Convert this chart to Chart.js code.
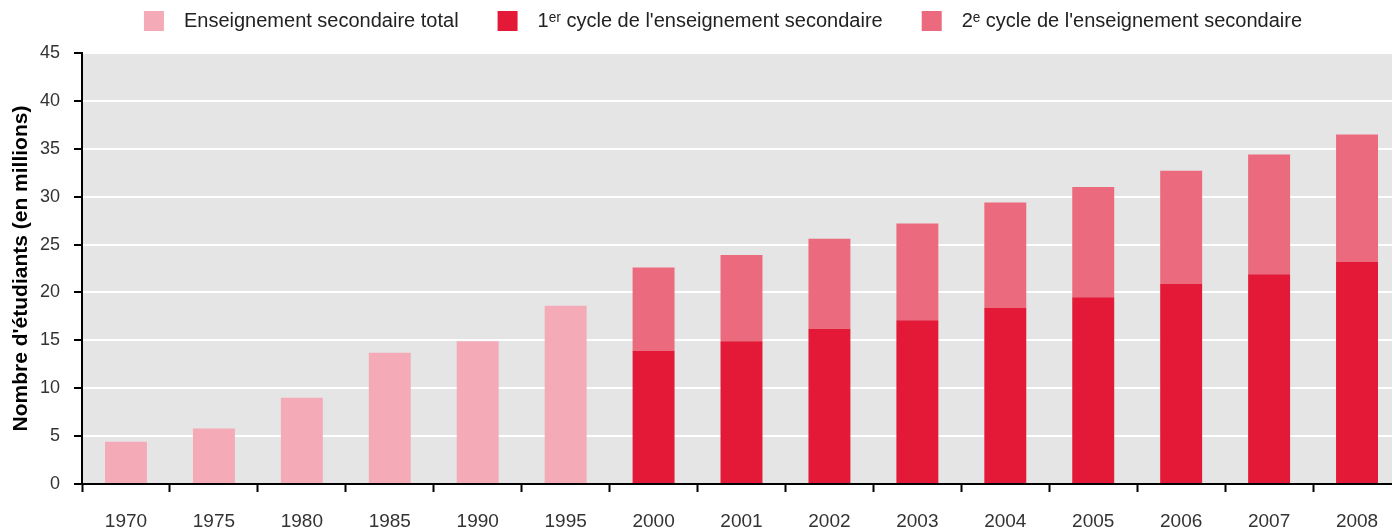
<!DOCTYPE html>
<html>
<head>
<meta charset="utf-8">
<script src="https://cdn.jsdelivr.net/npm/chart.js@4/dist/chart.umd.min.js"></script>
<style>
  html, body { margin: 0; padding: 0; background: #fff; overflow: hidden; }
  #wrap { width: 1392px; height: 531px; position: relative; overflow: hidden; }
  #c { display: block; }
</style>
</head>
<body>
<div id="wrap"><canvas id="c" width="1401" height="531"></canvas></div>
<script>
const categories = ['1970','1975','1980','1985','1990','1995','2000','2001','2002','2003','2004','2005','2006','2007','2008'];
const totalSecondary = [4.4, 5.8, 9.0, 13.7, 14.9, 18.6, null, null, null, null, null, null, null, null, null];
const lowerSecondary = [null, null, null, null, null, null, 13.9, 14.9, 16.2, 17.1, 18.4, 19.5, 20.9, 21.9, 23.2];
const upperSecondary = [null, null, null, null, null, null, 8.7, 9.0, 9.4, 10.1, 11.0, 11.5, 11.8, 12.5, 13.3];
const seriesNames = ['Enseignement secondaire total', '1\u1D49\u02B3 cycle de l\'enseignement secondaire', '2\u1D49 cycle de l\'enseignement secondaire'];
const seriesColors = ['#f4abb7', '#e31937', '#ec6a7e'];
const yTitle = 'Nombre d\'\u00e9tudiants (en millions)';

const plotBg = {
  id: 'plotBg',
  beforeDraw(chart) {
    const { ctx, chartArea: a } = chart;
    ctx.save();
    ctx.fillStyle = '#e5e5e5';
    ctx.fillRect(a.left, a.top, a.right - a.left, a.bottom - a.top);
    ctx.restore();
  }
};

// centre the legend row on x = 723 px, as in the reference
const legendShift = {
  id: 'legendShift',
  afterLayout(chart) {
    const lg = chart.legend;
    if (!lg) return;
    const dx = 723 - (lg.left + lg.right) / 2;
    lg.left += dx;
    lg.right += dx;
  }
};

const FONT = "'Liberation Sans', Arial, sans-serif";
const barOpts = { barPercentage: 0.477, categoryPercentage: 1.0, borderWidth: 0, stack: 's' };

new Chart(document.getElementById('c'), {
  type: 'bar',
  data: {
    labels: categories,
    datasets: [
      Object.assign({ label: seriesNames[0], data: totalSecondary, backgroundColor: seriesColors[0] }, barOpts),
      Object.assign({ label: seriesNames[1], data: lowerSecondary, backgroundColor: seriesColors[1] }, barOpts),
      Object.assign({ label: seriesNames[2], data: upperSecondary, backgroundColor: seriesColors[2] }, barOpts)
    ]
  },
  options: {
    responsive: false,
    animation: false,
    layout: { padding: { top: -28, right: 0, left: 0, bottom: 0 } },
    plugins: {
      legend: {
        position: 'top',
        fullSize: false,
        labels: {
          boxWidth: 20, boxHeight: 20, padding: 39,
          color: '#222',
          font: { family: FONT, size: 20 },
          generateLabels(chart) {
            return Chart.defaults.plugins.legend.labels.generateLabels(chart).map(l => Object.assign(l, { text: '\u2002' + l.text }));
          }
        }
      },
      tooltip: { enabled: false }
    },
    scales: {
      x: {
        stacked: true,
        offset: true,
        grid: { offset: true, drawOnChartArea: false, drawTicks: true, tickLength: 8, tickColor: '#000', tickWidth: 2 },
        border: { display: true, color: '#000', width: 2 },
        ticks: { color: '#333', font: { family: FONT, size: 19 }, padding: 18, maxRotation: 0, autoSkip: false },
        afterFit(axis) { axis.height = 47; }
      },
      xTop: {
        type: 'category',
        position: 'top',
        display: true,
        grid: { display: false, drawTicks: false },
        border: { display: false },
        ticks: { display: false },
        afterFit(axis) { axis.height = 12; }
      },
      y: {
        stacked: true,
        min: 0, max: 45,
        ticks: { stepSize: 5, color: '#333', font: { family: FONT, size: 18 }, padding: 14 },
        grid: { color: '#ffffff', lineWidth: 2, tickColor: '#000', tickWidth: 2, tickLength: 8 },
        border: { display: true, color: '#000', width: 2 },
        title: { display: true, text: yTitle, color: '#000', font: { family: FONT, size: 21, weight: 'bold' }, padding: { top: 9, bottom: 0 } },
        afterFit(axis) { axis.width = 82; }
      }
    }
  },
  plugins: [plotBg, legendShift]
});
</script>
</body>
</html>
